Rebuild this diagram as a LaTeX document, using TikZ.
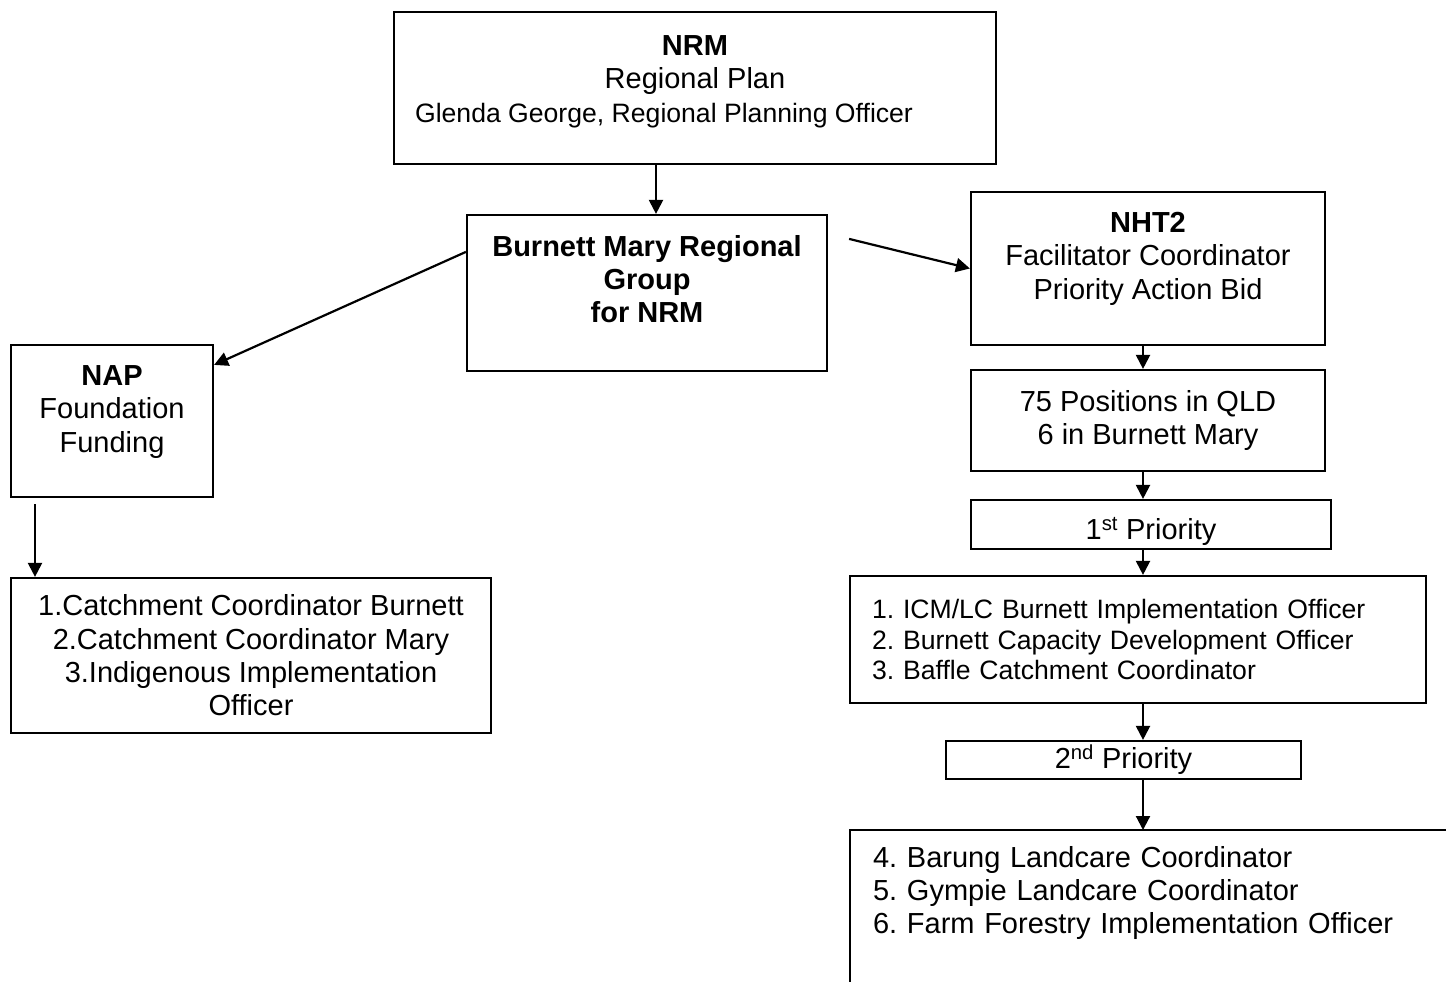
\documentclass[tikz,border=0pt]{standalone}
\usepackage{fontspec}
\setmainfont{Liberation Sans}
\usetikzlibrary{calc,positioning,arrows.meta}
\frenchspacing

\begin{document}
\begin{tikzpicture}[x=1pt,y=-1pt,
	line width=2.2pt,
	every node/.style={font=\fontsize{29}{33.4}\selectfont},
	box/.style={draw,align=center,inner sep=3pt},
	bold/.style={font=\fontsize{29}{33.4}\selectfont\bfseries},
	small/.style={font=\fontsize{26.6}{30.6}\selectfont},
	listbox/.style={draw,align=left,inner xsep=22pt,inner ysep=3pt},
	arr/.style={-{Triangle[length=14pt,width=14pt]}},]

	\useasboundingbox (0,0) rectangle (1446,982);
	\clip (0,0) rectangle (1446,982);

	% top of the chart
	\node [box,text depth=18pt,minimum width=602pt,minimum height=152pt] (nrm) at (695,88)
		{\textbf{NRM}\\Regional Plan\\{\fontsize{26.6}{30.6}\selectfont Glenda George, Regional Planning Officer}\hspace*{62pt}};
	\node [box,bold,text depth=28pt,minimum width=360pt,minimum height=156pt] (bmrg) at (647,293)
		{Burnett Mary Regional\\Group\\for NRM};

	% left branch
	\node [box,text depth=24pt,minimum width=202pt,minimum height=152pt] (nap) at (112,421)
		{\textbf{NAP}\\Foundation\\Funding};
	\node [box,minimum width=480pt,minimum height=155pt] (naplst) at (251,655.5)
		{1.Catchment Coordinator Burnett\\2.Catchment Coordinator Mary\\3.Indigenous Implementation\\Officer};

	% right branch
	\node [box,text depth=26pt,minimum width=354pt,minimum height=153pt] (nht) at (1148,268.5)
		{\textbf{NHT2}\\Facilitator Coordinator\\Priority Action Bid};
	\node [box,minimum width=354pt,minimum height=101pt] (pos) at (1148,420.5)
		{75 Positions in QLD\\6 in Burnett Mary};
	\node [box,text height=30pt,text depth=0pt,minimum width=360pt,minimum height=49pt] (pri1) at (1151,524.5)
		{1\textsuperscript{st} Priority};
	\node [listbox,small,text width=532pt,minimum height=127pt] (lst1) at (1138,639.5)
		{1. ICM/LC Burnett Implementation Officer\\2. Burnett Capacity Development Officer\\3. Baffle Catchment Coordinator};
	\node [box,minimum width=355pt,minimum height=38pt] (pri2) at (1123.5,760)
		{2\textsuperscript{nd} Priority};
	\node [align=left,inner xsep=22pt,inner ysep=15pt,text width=560pt,anchor=north west] (lst2) at (850,830)
		{4. Barung Landcare Coordinator\\5. Gympie Landcare Coordinator\\6. Farm Forestry Implementation Officer};
	\draw ([xshift=700pt]lst2.north west) -- (lst2.north west) -- ++(0,300);

	% connectors
	\coordinate (trunk) at (656,0);
	\coordinate (spine) at (1143,0);
	\coordinate (napx) at (35,0);
	\draw[arr] (trunk |- nrm.south) -- (trunk |- bmrg.north);
	\draw[arr] ($(bmrg.north west)+(0,38)$) -- ($(nap.north east)+(0,21)$);
	\draw[arr] ($(bmrg.north east)+(21,25)$) -- (nht.west);
	\draw[arr] ($(napx |- nap.south)+(0,6)$) -- (napx |- naplst.north);
	\foreach \a/\b in {nht/pos,pos/pri1,pri1/lst1,lst1/pri2,pri2/lst2}
		\draw[arr] (spine |- \a.south) -- (spine |- \b.north);
\end{tikzpicture}
\end{document}
